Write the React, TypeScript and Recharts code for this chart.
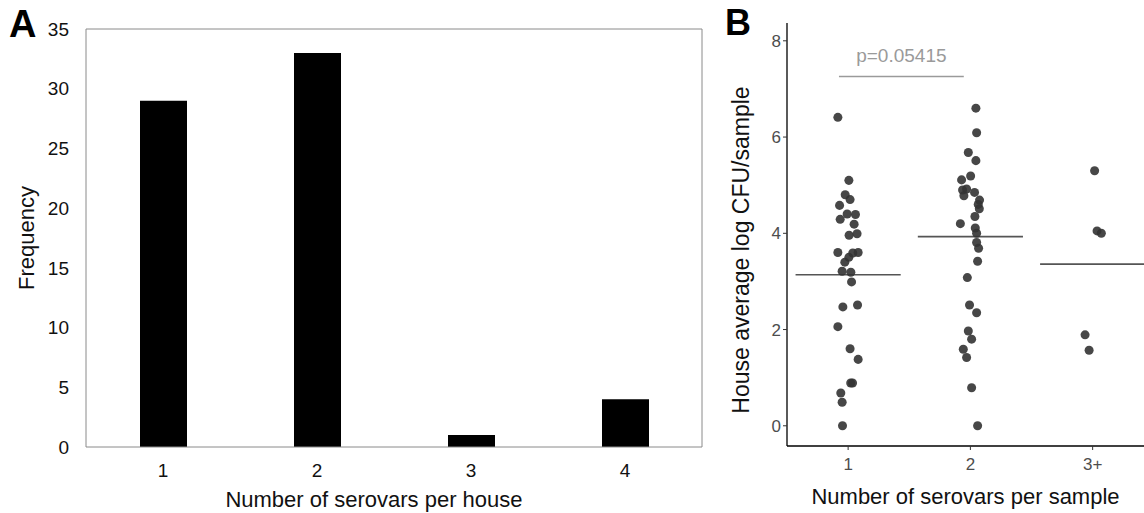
import React from "react";
import { BarChart, Bar, XAxis, YAxis, ComposedChart, Scatter, ZAxis, ReferenceLine, Label } from "recharts";

const FONT = "'Liberation Sans', Arial, sans-serif";

// panel A
const houseCats = ["1", "2", "3", "4"];
const houseFreq = [29, 33, 1, 4];
const freqTicks = [0, 5, 10, 15, 20, 25, 30, 35];

// panel B
const sampleTicks = [1, 2, 3];
const sampleTickLabels = ["1", "2", "3+"];
const cfuTicks = [0, 2, 4, 6, 8];

const g1X = [0.916, 1.006, 0.976, 1.016, 0.93, 0.992, 1.06, 0.935, 1.049, 1.008, 1.073, 0.916, 1.038, 1.082, 1.006, 0.973, 0.951, 1.022, 1.028, 0.957, 1.077, 0.916, 1.016, 1.082, 1.021, 1.036, 0.94, 0.951, 0.954];
const g1Y = [6.41, 5.1, 4.8, 4.7, 4.58, 4.4, 4.39, 4.29, 4.19, 3.96, 3.99, 3.6, 3.59, 3.6, 3.5, 3.4, 3.21, 3.19, 2.99, 2.47, 2.51, 2.06, 1.6, 1.38, 0.89, 0.89, 0.68, 0.49, 0.0];

const g2X = [2.045, 2.051, 1.983, 2.045, 1.928, 2.002, 1.936, 1.969, 2.034, 1.947, 2.075, 2.064, 2.073, 2.037, 1.918, 2.04, 2.051, 2.051, 2.067, 2.059, 1.975, 1.993, 2.051, 1.983, 2.01, 1.942, 1.969, 2.01, 2.059];
const g2Y = [6.6, 6.09, 5.68, 5.51, 5.11, 5.19, 4.9, 4.92, 4.85, 4.78, 4.69, 4.6, 4.51, 4.35, 4.2, 4.11, 4.0, 3.81, 3.69, 3.42, 3.08, 2.51, 2.35, 1.97, 1.8, 1.59, 1.42, 0.79, 0.0];

const g3X = [3.016, 3.036, 3.071, 2.938, 2.971];
const g3Y = [5.3, 4.05, 4.0, 1.89, 1.57];

const groupMeans = [3.14, 3.93, 3.36];
const pText = "p=0.05415";
const pBarX = [0.925, 1.946];
const pBarY = 7.26;

const houseData = houseCats.map((c, i) => ({ cat: c, freq: houseFreq[i] }));
const toPts = (xs: number[], ys: number[]) => xs.map((x, i) => ({ x, y: ys[i] }));
const groups = [toPts(g1X, g1Y), toPts(g2X, g2Y), toPts(g3X, g3Y)];

const frame = "#8a8a8a";

export default function App() {
  return (
    <div style={{ position: "absolute", left: 0, top: 0, width: 1144, height: 513, background: "#fff", fontFamily: FONT, overflow: "hidden" }}>
      <div style={{ position: "absolute", left: 9, top: 2, fontSize: 38, fontWeight: "bold", lineHeight: "44px" }}>A</div>
      <div style={{ position: "absolute", left: 725, top: 2, fontSize: 36, fontWeight: "bold", lineHeight: "42px" }}>B</div>

      <div style={{ position: "absolute", left: 0, top: 0 }}>
        <BarChart width={720} height={513} data={houseData} margin={{ top: 29, right: 18, bottom: 0, left: 0 }}>
          <XAxis dataKey="cat" height={66} tickSize={0} tickLine={false} tickMargin={17}
            tick={{ fill: "#111", fontSize: 19, fontFamily: FONT }} axisLine={{ stroke: frame }}>
            <Label content={(p: any) => {
              const vb = p.viewBox || { x: 86, y: 447, width: 616 };
              return <text x={vb.x + vb.width / 2 - 20} y={vb.y + 60} textAnchor="middle" fontSize={22} fill="#111" fontFamily={FONT}>Number of serovars per house</text>;
            }} />
          </XAxis>
          <YAxis width={86} domain={[0, 35]} ticks={freqTicks} interval={0} tickSize={0} tickLine={false} tickMargin={17}
            tick={{ fill: "#111", fontSize: 19, fontFamily: FONT }} axisLine={{ stroke: frame }}>
            <Label content={() => (
              <text x={26} y={238} transform="rotate(-90 26 238)" textAnchor="middle" dominantBaseline="central" fontSize={22} fill="#111" fontFamily={FONT}>Frequency</text>
            )} />
          </YAxis>
          <ReferenceLine y={35} stroke={frame} />
          <ReferenceLine x={houseCats[houseCats.length - 1]} position="end" stroke={frame} />
          <Bar dataKey="freq" fill="#000" barSize={47} isAnimationActive={false} />
        </BarChart>
      </div>

      <div style={{ position: "absolute", left: 720, top: 0 }}>
        <ComposedChart width={424} height={513} margin={{ top: 23, right: 0, bottom: 0, left: 0 }}>
          <XAxis type="number" dataKey="x" domain={[0.5, 3.42]} allowDataOverflow ticks={sampleTicks} interval={0}
            tickFormatter={(v: number) => sampleTickLabels[sampleTicks.indexOf(v)]}
            height={67} tickSize={4} tickMargin={8} axisLine={{ stroke: "#000", strokeWidth: 1.3 }} tickLine={{ stroke: "#333" }}
            tick={{ fill: "#4d4d4d", fontSize: 17, fontFamily: FONT }}>
            <Label content={(p: any) => {
              const vb = p.viewBox || { x: 67, y: 446, width: 357 };
              return <text x={vb.x + vb.width / 2} y={vb.y + 58} textAnchor="middle" fontSize={22} fill="#111" fontFamily={FONT}>Number of serovars per sample</text>;
            }} />
          </XAxis>
          <YAxis type="number" dataKey="y" domain={[-0.42, 8.37]} allowDataOverflow ticks={cfuTicks} interval={0}
            width={67} tickSize={4} tickMargin={2} axisLine={{ stroke: "#000", strokeWidth: 1.3 }} tickLine={{ stroke: "#333" }}
            tick={{ fill: "#4d4d4d", fontSize: 17, fontFamily: FONT }}>
            <Label content={() => (
              <text x={21} y={250} transform="rotate(-90 21 250)" textAnchor="middle" dominantBaseline="central" fontSize={23} fill="#111" fontFamily={FONT}>House average log CFU/sample</text>
            )} />
          </YAxis>
          <ZAxis range={[45, 45]} />
          <ReferenceLine segment={[{ x: pBarX[0], y: pBarY }, { x: pBarX[1], y: pBarY }]} stroke="#9a9a9a" strokeWidth={1.5}
            label={{ value: pText, position: "top", offset: 14, fill: "#9a9a9a", fontSize: 19, fontFamily: FONT }} />
          {groupMeans.map((m, i) => (
            <ReferenceLine key={i} ifOverflow="hidden" segment={[{ x: sampleTicks[i] - 0.43, y: m }, { x: sampleTicks[i] + 0.43, y: m }]} stroke="#555" strokeWidth={1.6} />
          ))}
          {groups.map((g, i) => (
            <Scatter key={i} data={g} fill="#333" fillOpacity={0.9} isAnimationActive={false} />
          ))}
        </ComposedChart>
      </div>
    </div>
  );
}
